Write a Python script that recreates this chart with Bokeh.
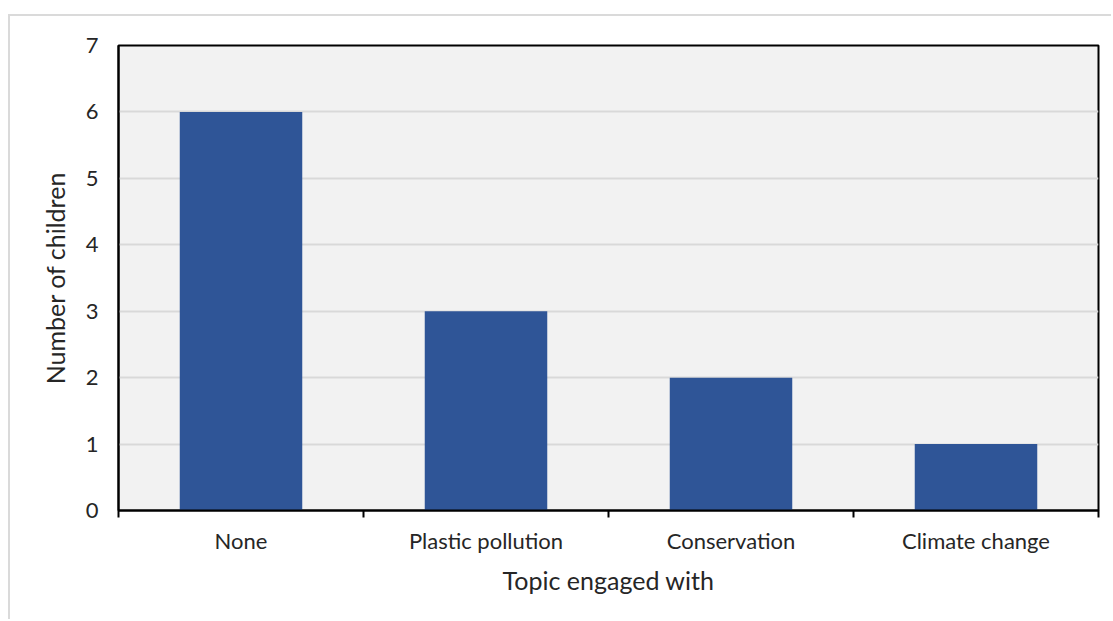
from bokeh.plotting import figure
from bokeh.models import FixedTicker, Range1d, ColumnDataSource
from bokeh.embed import file_html
from bokeh.resources import INLINE

categories = ["None", "Plastic pollution", "Conservation", "Climate change"]
children = [6, 3, 2, 1]
y_ticks = [0, 1, 2, 3, 4, 5, 6, 7]

xpos = [i + 0.5 for i in range(len(categories))]
src = ColumnDataSource(dict(x=xpos, top=children, cat=categories))

FONT = "Lato"
TXT = "#262626"

p = figure(width=1103, height=605, output_backend="svg", toolbar_location=None,
           x_range=Range1d(0, len(categories)), y_range=Range1d(0, 7),
           min_border_left=108, min_border_right=15, min_border_top=29, min_border_bottom=111)
p.margin = (14, 0, 0, 8)
p.styles = {"border-top": "2px solid #dadada", "border-left": "2px solid #dadada",
            "box-sizing": "border-box"}

p.background_fill_color = "#f2f2f2"
p.border_fill_color = "white"
p.outline_line_color = "black"
p.outline_line_width = 2

p.vbar(x="x", top="top", width=0.5, bottom=0, source=src, fill_color="#2f5597", line_color=None)

p.xgrid.grid_line_color = None
p.ygrid.grid_line_color = "#d9d9d9"
p.ygrid.grid_line_width = 2
p.ygrid.ticker = FixedTicker(ticks=y_ticks)

xa = p.xaxis[0]
xa.ticker = FixedTicker(ticks=xpos, minor_ticks=list(range(len(categories) + 1)))
xa.major_label_overrides = {x: c for x, c in zip(xpos, categories)}
xa.major_tick_line_color = None
xa.minor_tick_line_color = "black"
xa.minor_tick_line_width = 2
xa.minor_tick_in = 0
xa.minor_tick_out = 7
xa.axis_line_color = "black"
xa.axis_line_width = 2
xa.major_label_text_font = FONT
xa.major_label_text_font_size = "22px"
xa.major_label_text_color = TXT
xa.major_label_standoff = 9
xa.axis_label = "Topic engaged with"
xa.axis_label_text_font = FONT
xa.axis_label_text_font_size = "25px"
xa.axis_label_text_font_style = "normal"
xa.axis_label_text_color = TXT
xa.axis_label_standoff = 8

ya = p.yaxis[0]
ya.ticker = FixedTicker(ticks=y_ticks)
ya.major_tick_line_color = None
ya.minor_tick_line_color = None
ya.axis_line_color = "black"
ya.axis_line_width = 2
ya.major_label_text_font = FONT
ya.major_label_text_font_size = "22px"
ya.major_label_text_color = TXT
ya.major_label_standoff = 14
ya.axis_label = "Number of children"
ya.axis_label_text_font = FONT
ya.axis_label_text_font_size = "25px"
ya.axis_label_text_font_style = "normal"
ya.axis_label_text_color = TXT
ya.axis_label_standoff = 13

open("out.html", "w").write(file_html(p, INLINE))
